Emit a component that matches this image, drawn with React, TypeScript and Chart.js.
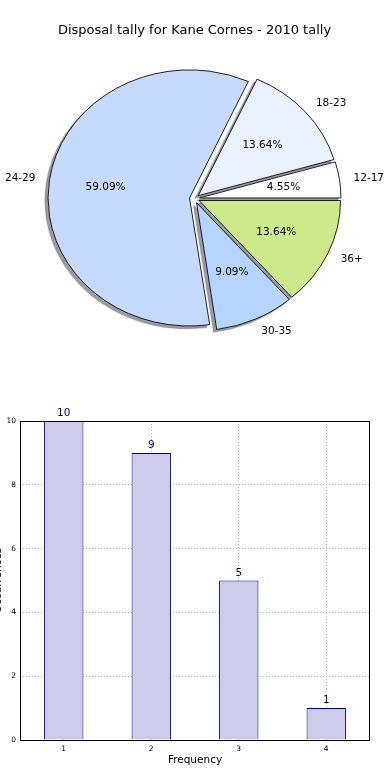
import React, { useEffect, useRef } from 'react';
import { Chart, registerables } from 'chart.js';

Chart.register(...registerables);

const FONT = '"DejaVu Sans", Verdana, sans-serif';

// Pie data (matplotlib order: counter-clockwise from 3 o'clock)
const ageGroups = ['12-17', '18-23', '24-29', '30-35', '36+'];
const disposalCounts = [1, 3, 13, 2, 3];
const sliceColors = ['#ffffff', '#eaf1ff', '#c6d9ff', '#b3d5ff', '#cdea8a'];
const pieTitle = 'Disposal tally for Kane Cornes - 2010 tally';

// Bar data
const frequencyLabels = ['1', '2', '3', '4'];
const occurrences = [10, 9, 5, 1];
const yTicks = [0, 2, 4, 6, 8, 10];
const xTitle = 'Frequency';
const yTitle = 'Occurrences';

const ELLIPSE = 0.905;
const EXPLODE = 5;

const piePlugin = {
  id: 'piePlugin',
  beforeDatasetsDraw(chart: any) {
    const ctx = chart.ctx as CanvasRenderingContext2D;
    const meta = chart.getDatasetMeta(0);
    const arcs = meta.data as any[];
    if (!arcs.length) return false;
    const cx = arcs[0].x;
    const cy = arcs[0].y;
    const ellipse = () => {
      ctx.translate(cx, cy);
      ctx.scale(1, ELLIPSE);
      ctx.translate(-cx, -cy);
    };
    const drawArcs = () => {
      arcs.forEach((arc) => {
        const m = (arc.startAngle + arc.endAngle) / 2;
        ctx.save();
        ctx.translate(Math.cos(m) * EXPLODE, Math.sin(m) * EXPLODE);
        arc.draw(ctx);
        ctx.restore();
      });
    };
    // shadows (beneath all wedges)
    ctx.save();
    ctx.translate(10000, 0);
    ellipse();
    ctx.shadowColor = 'rgba(55,60,72,0.5)';
    ctx.shadowOffsetX = -10003;
    ctx.shadowOffsetY = 2.6;
    ctx.shadowBlur = 1;
    drawArcs();
    ctx.restore();
    // wedges
    ctx.save();
    ellipse();
    drawArcs();
    ctx.restore();
    // labels
    const data = chart.data.datasets[0].data as number[];
    const labels = chart.data.labels as string[];
    const total = data.reduce((a, b) => a + b, 0);
    ctx.save();
    ctx.font = `10.5px ${FONT}`;
    ctx.fillStyle = '#000';
    ctx.textBaseline = 'middle';
    arcs.forEach((arc, i) => {
      const m = (arc.startAngle + arc.endAngle) / 2;
      const c = Math.cos(m);
      const s = Math.sin(m);
      const r = arc.outerRadius;
      const pt = (rho: number) => [cx + (EXPLODE + rho) * c, cy + ELLIPSE * (EXPLODE + rho) * s];
      const [px, py] = pt(0.6 * r);
      ctx.textAlign = 'center';
      ctx.fillText(((data[i] / total) * 100).toFixed(2) + '%', px, py);
      const [lx, ly] = pt(1.1 * r);
      ctx.textAlign = c > 0 ? 'left' : 'right';
      ctx.fillText(labels[i], lx, ly);
    });
    ctx.restore();
    return false;
  },
};

const barPlugin = {
  id: 'barPlugin',
  afterDatasetsDraw(chart: any) {
    const ctx = chart.ctx as CanvasRenderingContext2D;
    const meta = chart.getDatasetMeta(0);
    const data = chart.data.datasets[0].data as number[];
    ctx.save();
    ctx.font = `10.5px ${FONT}`;
    ctx.fillStyle = '#000080';
    ctx.textAlign = 'center';
    ctx.textBaseline = 'alphabetic';
    meta.data.forEach((bar: any, i: number) => {
      ctx.fillText(String(data[i]), bar.x, bar.y - 5);
    });
    ctx.restore();
  },
  afterDraw(chart: any) {
    const ctx = chart.ctx as CanvasRenderingContext2D;
    const a = chart.chartArea;
    ctx.save();
    ctx.strokeStyle = '#000';
    ctx.lineWidth = 1;
    ctx.strokeRect(Math.round(a.left) + 0.5, Math.round(a.top) + 0.5, Math.round(a.right - a.left) - 1, Math.round(a.bottom - a.top));
    ctx.restore();
  },
};

export default function App() {
  const pieRef = useRef<HTMLCanvasElement>(null);
  const barRef = useRef<HTMLCanvasElement>(null);

  useEffect(() => {
    const pieLabels = [...ageGroups].reverse();
    const pieData = [...disposalCounts].reverse();
    const pieColors = [...sliceColors].reverse();
    const pie = new Chart(pieRef.current as HTMLCanvasElement, {
      type: 'pie',
      data: {
        labels: pieLabels,
        datasets: [
          {
            data: pieData,
            backgroundColor: pieColors,
            borderColor: '#000',
            borderWidth: 0.9,
            radius: 141.5,
          } as any,
        ],
      },
      options: {
        animation: false,
        responsive: false,
        events: [],
        rotation: 90,
        layout: { padding: { left: 0, right: 1, top: 0, bottom: 31.6 } },
        plugins: {
          legend: { display: false },
          tooltip: { enabled: false },
          title: {
            display: true,
            text: pieTitle,
            color: '#000',
            font: { family: FONT, size: 13, weight: 'normal' },
            padding: { top: 23.2, bottom: 10 },
          },
        },
      } as any,
      plugins: [piePlugin],
    });

    const gridColor = 'rgba(175,175,175,0.85)';
    const bar = new Chart(barRef.current as HTMLCanvasElement, {
      type: 'bar',
      data: {
        labels: frequencyLabels,
        datasets: [
          {
            data: occurrences,
            backgroundColor: '#ccccea',
            borderColor: '#00008b',
            borderWidth: 1,
            barPercentage: 0.45,
            categoryPercentage: 1,
          },
        ],
      },
      options: {
        animation: false,
        responsive: false,
        events: [],
        layout: { padding: { top: 41, right: 20, left: 0, bottom: 0 } },
        plugins: { legend: { display: false }, tooltip: { enabled: false } },
        scales: {
          x: {
            type: 'category',
            offset: true,
            z: 1,
            grid: { offset: false, color: gridColor, lineWidth: 1, drawTicks: false },
            border: { display: false, dash: [1, 2] },
            ticks: { font: { family: FONT, size: 7.5 }, color: '#000', padding: 5 },
            title: {
              display: true,
              text: xTitle,
              color: '#000',
              font: { family: FONT, size: 10.5 },
              padding: { top: 4, bottom: 13.7 },
            },
            afterFit: (s: any) => {
              s.height = 40;
            },
          },
          y: {
            min: 0,
            max: 10,
            z: 1,
            afterBuildTicks: (s: any) => {
              s.ticks = yTicks.map((v) => ({ value: v }));
            },
            grid: { color: gridColor, lineWidth: 1, drawTicks: false },
            border: { display: false, dash: [1, 2] },
            ticks: { font: { family: FONT, size: 7.5 }, color: '#000', padding: 4 },
            title: {
              display: true,
              text: yTitle,
              color: '#000',
              font: { family: FONT, size: 10.5 },
              padding: { top: 3.8, bottom: 0 },
            },
            afterFit: (s: any) => {
              s.width = 32;
            },
          },
        },
      } as any,
      plugins: [barPlugin],
    });

    return () => {
      pie.destroy();
      bar.destroy();
    };
  }, []);

  return (
    <div style={{ position: 'absolute', left: 0, top: 0, width: 390, height: 780, overflow: 'hidden' }}>
      <canvas ref={pieRef} width={390} height={380} style={{ position: 'absolute', left: 0, top: 0 }} />
      <canvas ref={barRef} width={402} height={400} style={{ position: 'absolute', left: -12, top: 380 }} />
    </div>
  );
}
